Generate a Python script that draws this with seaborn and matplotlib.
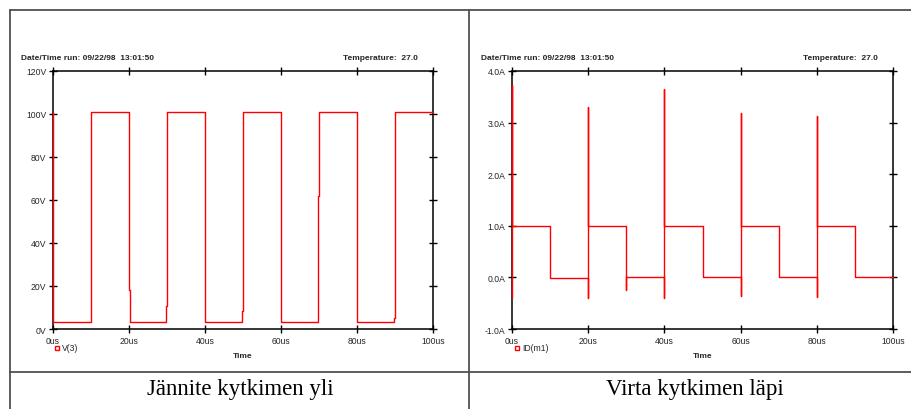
import numpy as np
import pandas as pd
import matplotlib
matplotlib.use('Agg')
import matplotlib.pyplot as plt
from matplotlib.lines import Line2D
import seaborn as sns

# Voltage across the switch, V(3) (time in us, volts)
v_time = [0, 0, 10, 10, 20, 20, 20.3, 20.3, 29.8, 29.8, 30.1, 30.1, 40, 40,
          49.8, 49.8, 50.1, 50.1, 60, 60, 69.8, 69.8, 70.1, 70.1, 80, 80,
          89.8, 89.8, 90.1, 90.1, 100]
v_volts = [101, 3.4, 3.4, 101, 101, 18, 18, 3.4, 3.4, 10.5, 10.5, 101, 101, 3.4,
           3.4, 8.5, 8.5, 101, 101, 3.4, 3.4, 62, 62, 101, 101, 3.4,
           3.4, 5, 5, 101, 101]

# Current through the switch, ID(m1) (time in us, amps)
i_time = [0, 0, 0, 10, 10, 20, 20, 20, 20, 30, 30, 30, 40, 40, 40, 40, 50, 50,
          60, 60, 60, 60, 70, 70, 80, 80, 80, 80, 90, 90, 100]
i_amps = [-0.4, 3.73, 1.0, 1.0, -0.02, -0.02, -0.4, 3.31, 1.0, 1.0, -0.24, 0.0,
          0.0, -0.4, 3.65, 1.0, 1.0, 0.0, 0.0, -0.36, 3.18, 1.0, 1.0, 0.0,
          0.0, -0.38, 3.13, 1.0, 1.0, 0.0, 0.0]

x_ticks = [0, 20, 40, 60, 80, 100]
x_labels = ['0us', '20us', '40us', '60us', '80us', '100us']
v_ticks = [0, 20, 40, 60, 80, 100, 120]
v_labels = ['0V', '20V', '40V', '60V', '80V', '100V', '120V']
i_ticks = [-1, 0, 1, 2, 3, 4]
i_labels = ['-1.0A', '0.0A', '1.0A', '2.0A', '3.0A', '4.0A']

header_left = 'Date/Time run: 09/22/98  13:01:50'
header_right = 'Temperature:  27.0'
captions = ['Jännite kytkimen yli', 'Virta kytkimen läpi']
legends = ['V(3)', 'ID(m1)']

sns.set_style('white')
plt.rcParams['font.family'] = ['Liberation Sans', 'DejaVu Sans']

W, H = 911, 410
fig = plt.figure(figsize=(W / 100, H / 100), dpi=100)
fig.patch.set_facecolor('white')

def fx(px):
    return px / W

def fy(py):
    return 1 - py / H

panels = [
    dict(left=53, right=433, t=v_time, y=v_volts, ylim=(0, 120), yt=v_ticks, yl=v_labels,
         hx0=21, hx1=418, lx=57),
    dict(left=512, right=893, t=i_time, y=i_amps, ylim=(-1, 4), yt=i_ticks, yl=i_labels,
         hx0=481, hx1=878, lx=517),
]

for k, p in enumerate(panels):
    ax = fig.add_axes([fx(p['left']), fy(330), fx(p['right'] - p['left']), (330 - 72) / H])
    df = pd.DataFrame({'t': p['t'], 'y': p['y']})
    sns.lineplot(data=df, x='t', y='y', sort=False, estimator=None, color='#ff0000',
                 linewidth=1.0, ax=ax, legend=False, zorder=3, clip_on=False)
    ax.set_xlim(0, 100)
    ax.set_ylim(*p['ylim'])
    ax.set_xticks(x_ticks)
    ax.set_xticklabels(x_labels)
    ax.set_yticks(p['yt'])
    ax.set_yticklabels(p['yl'])
    ax.set_xlabel('')
    ax.set_ylabel('')
    for s in ax.spines.values():
        s.set_visible(True)
        s.set_color('black')
        s.set_linewidth(1.1)
        s.set_zorder(2)
    ax.tick_params(axis='both', which='both', direction='inout', length=5.5, width=1.0,
                   color='black', labelsize=6.2, pad=2, top=True, right=True,
                   labeltop=False, labelright=False, bottom=True, left=True)
    ax.set_facecolor('white')

    fig.text(fx(p['hx0']), fy(58), header_left, fontsize=6, fontweight='bold',
             ha='left', va='center')
    fig.text(fx(p['hx1']), fy(58), header_right, fontsize=6, fontweight='bold',
             ha='right', va='center')
    fig.text(fx((p['left'] + p['right']) / 2), fy(357), 'Time', fontsize=6,
             fontweight='bold', ha='center', va='center')
    fig.add_artist(Line2D([fx(p['lx'])], [fy(348.5)], marker='s', markersize=3.5,
                          markerfacecolor='white', markeredgecolor='#ff0000',
                          markeredgewidth=1.0, linestyle='none', transform=fig.transFigure))
    fig.text(fx(p['lx'] + 5), fy(349), legends[k], fontsize=6.2, ha='left', va='center')

# captions below the plots
fig.text(fx(240), fy(390), captions[0], fontsize=16.5, family='Liberation Serif',
         ha='center', va='center', color='black')
fig.text(fx(695), fy(390), captions[1], fontsize=16.5, family='Liberation Serif',
         ha='center', va='center', color='black')

# table frame around the two panels
frame = dict(color='#505050', linewidth=1.3, transform=fig.transFigure)
fig.add_artist(Line2D([fx(10), 1], [fy(11), fy(11)], **frame))
fig.add_artist(Line2D([fx(10), 1], [fy(372.5), fy(372.5)], **frame))
fig.add_artist(Line2D([fx(10), fx(10)], [fy(11), 0], **frame))
fig.add_artist(Line2D([fx(469), fx(469)], [fy(11), 0], **frame))

fig.savefig('out.png', dpi=100, facecolor='white')
